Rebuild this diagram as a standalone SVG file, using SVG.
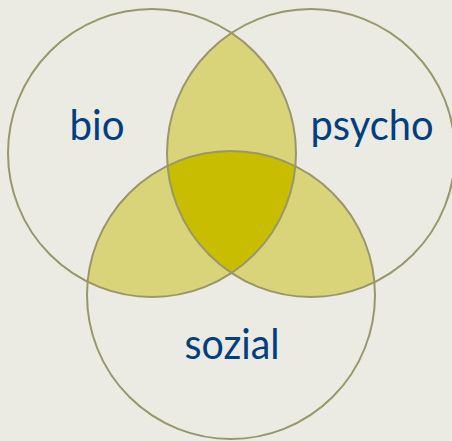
<svg xmlns="http://www.w3.org/2000/svg" width="452" height="441" viewBox="0 0 452 441">
  <style>
    .ring { fill: none; stroke: #99976a; stroke-width: 2; }
    .pair { fill: #d9d37a; }
    .core { fill: #c8bd00; }
    .label { font-family: Lato, "Open Sans", sans-serif; font-size: 43px; font-weight: 400; fill: #003f7f; text-anchor: middle; }
  </style>
  <defs>
    <clipPath id="clipBio"><circle cx="152" cy="153" r="144"/></clipPath>
    <clipPath id="clipPsycho"><circle cx="311" cy="153" r="144"/></clipPath>
    <clipPath id="clipSozial"><circle cx="231" cy="295" r="144"/></clipPath>
  </defs>
  <rect width="452" height="441" fill="#ebebe3"/>

  <!-- shaded overlaps: three pairwise lenses and the shared core -->
  <g id="overlaps">
    <circle class="pair" cx="152" cy="153" r="144" clip-path="url(#clipPsycho)"/>
    <circle class="pair" cx="152" cy="153" r="144" clip-path="url(#clipSozial)"/>
    <circle class="pair" cx="311" cy="153" r="144" clip-path="url(#clipSozial)"/>
    <g clip-path="url(#clipSozial)">
      <circle class="core" cx="152" cy="153" r="144" clip-path="url(#clipPsycho)"/>
    </g>
  </g>

  <g id="bio">
    <circle class="ring" cx="152" cy="153" r="144"/>
    <text class="label" x="97" y="140" textLength="55" lengthAdjust="spacingAndGlyphs">bio</text>
  </g>
  <g id="psycho">
    <circle class="ring" cx="311" cy="153" r="144"/>
    <text class="label" x="372" y="140" textLength="123" lengthAdjust="spacingAndGlyphs">psycho</text>
  </g>
  <g id="sozial">
    <circle class="ring" cx="231" cy="295" r="144"/>
    <text class="label" x="232" y="359" textLength="95" lengthAdjust="spacingAndGlyphs">sozial</text>
  </g>
</svg>
